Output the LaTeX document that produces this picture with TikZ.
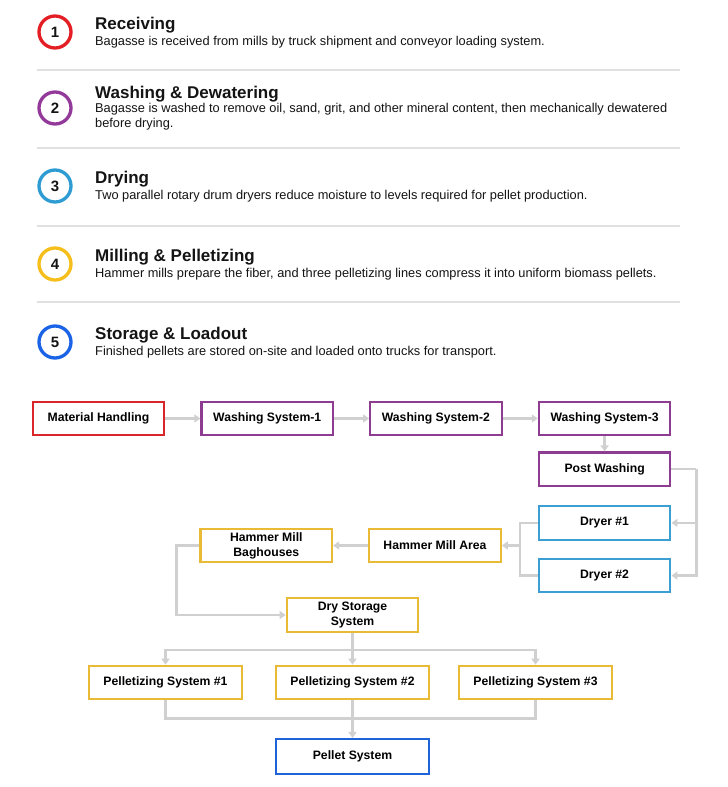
\documentclass[tikz,border=0pt]{standalone}
\usepackage{fontspec}
\setmainfont{Liberation Sans}
\usetikzlibrary{arrows.meta, positioning}
\definecolor{numRed}{HTML}{E31E24}
\definecolor{numPurple}{HTML}{93399A}
\definecolor{numCyan}{HTML}{2E9CD3}
\definecolor{numGold}{HTML}{F6BE1A}
\definecolor{numBlue}{HTML}{1B63E6}
\definecolor{boxRed}{HTML}{D9262B}
\definecolor{boxPurple}{HTML}{8E3C91}
\definecolor{boxCyan}{HTML}{3B9FD4}
\definecolor{boxGold}{HTML}{E9BA35}
\definecolor{boxBlue}{HTML}{1E63D8}
\definecolor{flowGray}{HTML}{D0D0D0}
\definecolor{ruleGray}{HTML}{E0E0E0}
\definecolor{inkGray}{HTML}{141414}
\tikzset{
  num/.style    = {circle, draw, line width=3.3pt, minimum size=32pt, inner sep=0pt,
                   font=\fontsize{15}{15}\selectfont\bfseries, text=inkGray},
  ttl/.style    = {anchor=base west, inner sep=0pt, text=inkGray,
                   font=\fontsize{17}{20}\selectfont\bfseries},
  txt/.style    = {anchor=base west, inner sep=0pt, text=inkGray,
                   font=\fontsize{12.8}{15}\selectfont},
  sep/.style    = {draw=ruleGray, line width=2pt},
  blk/.style    = {draw, fill=white, line width=2.2pt, minimum width=131.5pt,
                   minimum height=33.5pt, align=center, inner sep=2pt, text=black,
                   font=\fontsize{12.2}{15}\selectfont\bfseries},
  wide/.style   = {blk, minimum width=152.5pt},
  fl/.style     = {-{Triangle[length=6pt, width=8pt]}, draw=flowGray, line width=2.5pt},
  ln/.style     = {draw=flowGray, line width=2.5pt},
}

\begin{document}
\begin{tikzpicture}[x=1pt, y=-1pt, node distance=15pt and 35pt]
\useasboundingbox[fill=white] (0,0) rectangle (728,787);

% process steps
\node[num, draw=numRed]    (c1) at (55,32)  {1};
\node[num, draw=numPurple] (c2) at (55,108) {2};
\node[num, draw=numCyan]   (c3) at (55,186) {3};
\node[num, draw=numGold]   (c4) at (55,264) {4};
\node[num, draw=numBlue]   (c5) at (55,342) {5};

\node[ttl] (h1) at (95,29)  {Receiving};
\node[txt] (t1) at (95,45)  {Bagasse is received from mills by truck shipment and conveyor loading system.};
\node[ttl] (h2) at (95,98)  {Washing \& Dewatering};
\node[txt] (t2) at (95,112) {Bagasse is washed to remove oil, sand, grit, and other mineral content, then mechanically dewatered};
\node[txt] (t2b) at (95,127) {before drying.};
\node[ttl] (h3) at (95,183) {Drying};
\node[txt] (t3) at (95,199) {Two parallel rotary drum dryers reduce moisture to levels required for pellet production.};
\node[ttl] (h4) at (95,261) {Milling \& Pelletizing};
\node[txt] (t4) at (95,277) {Hammer mills prepare the fiber, and three pelletizing lines compress it into uniform biomass pellets.};
\node[ttl] (h5) at (95,339) {Storage \& Loadout};
\node[txt] (t5) at (95,355) {Finished pellets are stored on-site and loaded onto trucks for transport.};

\draw[sep] (37,70)  -- (680,70);
\draw[sep] (37,148) -- (680,148);
\draw[sep] (37,226) -- (680,226);
\draw[sep] (37,302) -- (680,302);

% flow
\node[blk, draw=boxRed]                  (mh)  at (98.5,418.5) {Material Handling};
\node[blk, draw=boxPurple, right=of mh]  (ws1) {Washing System-1};
\node[blk, draw=boxPurple, right=of ws1] (ws2) {Washing System-2};
\node[blk, draw=boxPurple, right=of ws2] (ws3) {Washing System-3};
\node[blk, draw=boxPurple, below=of ws3] (pw)  {Post Washing};
\node[blk, draw=boxCyan, below=18pt of pw] (d1) {Dryer \#1};
\node[blk, draw=boxCyan, below=17pt of d1] (d2) {Dryer \#2};

\node[blk, draw=boxGold] (hma) at (435,545.5)   {Hammer Mill Area};
\node[blk, draw=boxGold, left=of hma] (hmb)     {Hammer Mill\\Baghouses};
\node[blk, draw=boxGold] (dss) at (352.5,615)   {Dry Storage\\System};

\node[wide, draw=boxGold] (p1) at (165.5,682.5) {Pelletizing System \#1};
\node[wide, draw=boxGold] (p2) at (352.5,682.5) {Pelletizing System \#2};
\node[wide, draw=boxGold] (p3) at (535.5,682.5) {Pelletizing System \#3};
\node[wide, draw=boxBlue, minimum height=35pt] (ps) at (352.5,756.5) {Pellet System};

\draw[fl] (mh) -- (ws1);
\draw[fl] (ws1) -- (ws2);
\draw[fl] (ws2) -- (ws3);
\draw[fl] (ws3) -- (pw);
\draw[ln] (pw.east) -- ++(25,0) coordinate (pwk);
\draw[fl] (pwk) |- (d1.east);
\draw[fl] (pwk) |- (d2.east);
\draw[ln] (d1.west) -- ++(-18,0) coordinate (dk) |- (d2.west);
\draw[fl] (dk |- hma.east) -- (hma.east);
\draw[fl] (hma) -- (hmb);
\draw[fl] (hmb.west) -- ++(-23,0) |- (dss.west);
\draw[ln] (dss.south) -- ++(0,17) coordinate (sk);
\draw[fl] (sk) -| (p1.north);
\draw[fl] (sk) -| (p3.north);
\draw[fl] (sk) -- (p2.north);
\draw[ln] (p1.south) -- ++(0,18) -| (p3.south);
\draw[fl] (p2) -- (ps);
\end{tikzpicture}
\end{document}
